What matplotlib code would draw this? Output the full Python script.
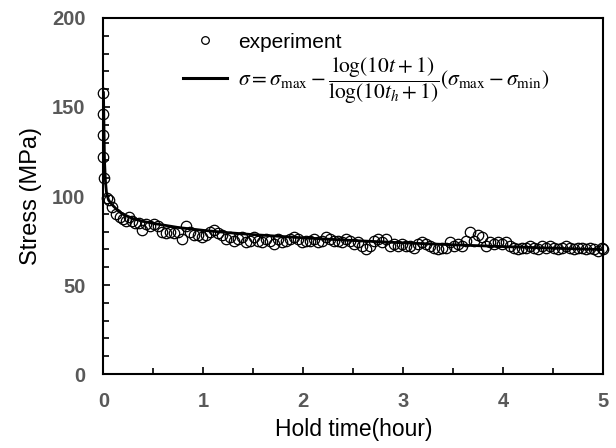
import matplotlib
matplotlib.use("Agg")
import matplotlib.pyplot as plt
from matplotlib.lines import Line2D
from matplotlib.ticker import MultipleLocator

plt.rcParams['font.family'] = ['Liberation Sans', 'DejaVu Sans']
plt.rcParams['mathtext.fontset'] = 'stix'

# Experimental data (hour, MPa)
exp_t = [0.00, 0.00, 0.00, 0.00, 0.01,
         0.04, 0.06, 0.09, 0.13, 0.17, 0.20, 0.23, 0.26, 0.29, 0.32, 0.36, 0.39,
         0.43, 0.47, 0.51, 0.55, 0.59, 0.63, 0.67, 0.71, 0.75, 0.79, 0.83, 0.87,
         0.91, 0.95, 0.99, 1.03, 1.07, 1.11, 1.15, 1.19, 1.23, 1.27, 1.31, 1.35,
         1.39, 1.43, 1.47, 1.51, 1.55, 1.59, 1.63, 1.67, 1.71, 1.75, 1.79, 1.83,
         1.87, 1.91, 1.95, 1.99, 2.03, 2.07, 2.11, 2.15, 2.19, 2.23, 2.27, 2.31,
         2.35, 2.39, 2.43, 2.47, 2.51, 2.55, 2.59, 2.63, 2.67, 2.71, 2.75, 2.79,
         2.83, 2.87, 2.91, 2.95, 2.99, 3.03, 3.07, 3.11, 3.15, 3.19, 3.23, 3.27,
         3.31, 3.35, 3.39, 3.43, 3.47, 3.51, 3.55, 3.59, 3.63, 3.67, 3.71, 3.75,
         3.79, 3.83, 3.87, 3.91, 3.95, 3.99, 4.03, 4.07, 4.11, 4.15, 4.19, 4.23,
         4.27, 4.31, 4.35, 4.39, 4.43, 4.47, 4.51, 4.55, 4.59, 4.63, 4.67, 4.71,
         4.75, 4.79, 4.83, 4.87, 4.91, 4.95, 4.99, 5.00]
exp_s = [158, 146, 134, 122, 110,
         99, 98, 94, 90, 88, 87, 86, 88, 86, 85, 85, 81,
         84, 83, 84, 83, 80, 79, 80, 79, 80, 76, 83, 80,
         78, 78, 77, 78, 80, 81, 79, 78, 76, 77, 75, 76,
         77, 74, 75, 77, 75, 74, 76, 75, 73, 76, 74, 75,
         76, 77, 76, 74, 75, 75, 76, 74, 75, 77, 76, 75,
         75, 74, 76, 75, 73, 74, 72, 70, 72, 75, 76, 74,
         76, 72, 73, 72, 73, 72, 72, 71, 73, 74, 73, 72,
         71, 70, 71, 71, 74, 72, 73, 72, 75, 80, 75, 78,
         77, 72, 74, 73, 74, 73, 74, 72, 71, 70, 71, 71,
         72, 71, 70, 72, 71, 72, 71, 70, 71, 72, 71, 70,
         71, 71, 70, 71, 70, 69, 71, 70]

# Fitted curve (hour, MPa)
fit_t = [0.0, 0.01, 0.02, 0.03, 0.05, 0.075, 0.1, 0.15, 0.2, 0.3, 0.4, 0.5,
         0.75, 1.0, 1.25, 1.5, 2.0, 2.5, 3.0, 3.5, 4.0, 4.5, 5.0]
fit_s = [158, 120, 108, 102, 97.8, 95.8, 94.3, 91.5, 89.6, 87.2, 85.7, 84.6,
         82.3, 80.7, 79.4, 78.3, 76.5, 75.0, 73.7, 72.6, 71.6, 70.7, 69.9]

xticks = [0, 1, 2, 3, 4, 5]
yticks = [0, 50, 100, 150, 200]

fig = plt.figure(figsize=(6.16, 4.48), dpi=100)
ax = fig.add_axes([0.168, 0.165, 0.811, 0.795])

ax.plot(exp_t, exp_s, linestyle='none', marker='o', markersize=7.5,
        markerfacecolor='none', markeredgecolor='black', markeredgewidth=0.9,
        clip_on=False, zorder=3)
ax.plot(fit_t, fit_s, color='black', linewidth=2.0, zorder=4)

ax.set_xlim(0, 5)
ax.set_ylim(0, 200)
ax.set_xticks(xticks)
ax.set_yticks(yticks)
ax.xaxis.set_minor_locator(MultipleLocator(0.5))
ax.yaxis.set_minor_locator(MultipleLocator(10))
ax.tick_params(which='both', direction='in', width=1.2, colors='black',
               labelcolor='#595959', labelsize=14.5, pad=13)
ax.tick_params(which='major', length=5)
ax.tick_params(which='minor', length=4)
for lab in ax.get_xticklabels() + ax.get_yticklabels():
    lab.set_fontweight('bold')
for sp in ax.spines.values():
    sp.set_linewidth(1.5)

ax.set_xlabel('Hold time(hour)', fontsize=16.5, labelpad=5)
ax.set_ylabel('Stress (MPa)', fontsize=17, labelpad=7)

handles = [
    Line2D([], [], linestyle='none', marker='o', markersize=5.5,
           markerfacecolor='none', markeredgecolor='black', markeredgewidth=0.9),
    Line2D([], [], color='black', linewidth=2.2),
]
labels = ['experiment',
          r'$\sigma=\sigma_{\max}-\dfrac{\log(10t+1)}{\log(10t_h+1)}(\sigma_{\max}-\sigma_{\min})$']
leg = ax.legend(handles, labels, loc='upper left', bbox_to_anchor=(0.13, 1.0),
                frameon=False, fontsize=15, handlelength=2.1, handletextpad=0.55,
                labelspacing=0.2, borderaxespad=0.3)
leg.get_texts()[1].set_fontsize(15.5)

fig.savefig('out.png', dpi=100)
